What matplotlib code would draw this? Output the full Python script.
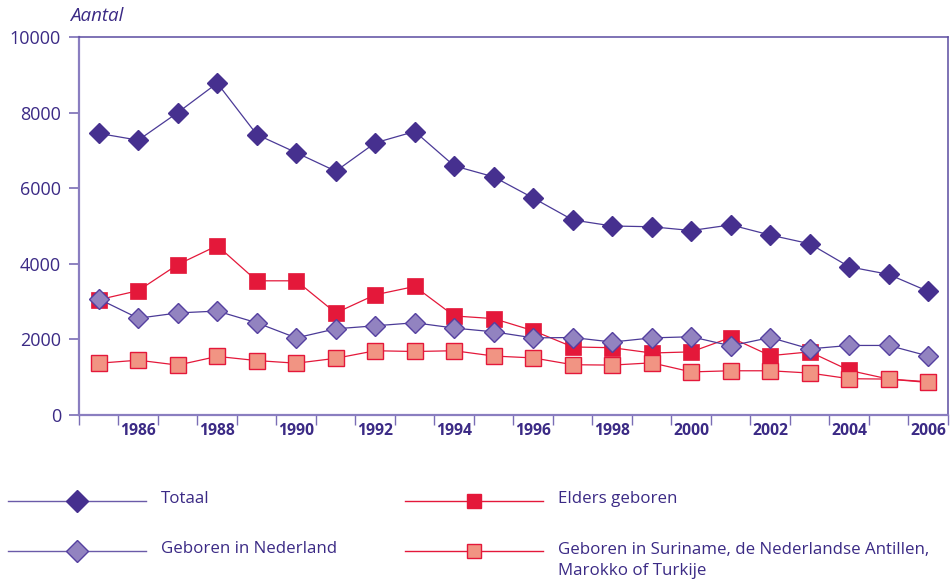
import matplotlib
matplotlib.use('Agg')
import matplotlib.pyplot as plt
import numpy as np

plt.rcParams['font.family'] = ['Open Sans', 'DejaVu Sans']

# data
years = list(range(1985, 2007))
totaal = [7450, 7270, 8000, 8780, 7420, 6940, 6450, 7200, 7500, 6590, 6300,
          5740, 5160, 5000, 4980, 4880, 5030, 4760, 4530, 3920, 3720, 3270]
elders = [3050, 3290, 3980, 4480, 3550, 3550, 2700, 3180, 3400, 2620, 2550,
          2230, 1800, 1780, 1640, 1670, 2050, 1570, 1670, 1180, 950, 880]
nederland = [3070, 2560, 2700, 2750, 2440, 2040, 2280, 2360, 2440, 2300, 2200,
             2040, 2050, 1930, 2040, 2070, 1830, 2050, 1750, 1840, 1840, 1560]
suriname = [1370, 1450, 1320, 1550, 1440, 1370, 1500, 1700, 1680, 1700, 1560,
            1510, 1330, 1320, 1380, 1140, 1170, 1170, 1110, 960, 950, 860]

labels = ['Totaal', 'Elders geboren', 'Geboren in Nederland',
          'Geboren in Suriname, de Nederlandse Antillen,\nMarokko of Turkije']

TXT = '#3b2a85'
DARK = '#46308f'
LIGHT = '#9283c0'
RED = '#e4183a'
SALMON = '#f19483'

fig = plt.figure(figsize=(9.53, 5.84), dpi=100)
ax = fig.add_axes([79/953, 1-415/584, (948-79)/953, (415-37)/584])

x = np.arange(len(years))
ax.plot(x, totaal, color='#4b3a97', lw=0.9, marker='D', ms=10.2,
        mfc=DARK, mec=DARK, zorder=3)
ax.plot(x, elders, color=RED, lw=0.9, marker='s', ms=11.5,
        mfc=RED, mec=RED, mew=0.5, zorder=4)
ax.plot(x, suriname, color=RED, lw=0.9, marker='s', ms=11,
        mfc=SALMON, mec=RED, mew=1.0, zorder=5)
ax.plot(x, nederland, color='#4b3a97', lw=0.9, marker='D', ms=10.4,
        mfc=LIGHT, mec='#5540a0', mew=1.0, zorder=6)

ax.set_xlim(-0.5, len(years) - 0.5)
ax.set_ylim(0, 10000)
ax.set_yticks(range(0, 10001, 2000))
ax.tick_params(axis='y', direction='out', length=7, width=1.2, color='#7a6db5',
               labelsize=13, labelcolor=TXT, pad=6)

even = [i for i, y in enumerate(years) if y % 2 == 0]
ax.set_xticks(even)
ax.set_xticklabels([str(years[i]) for i in even], fontweight='bold')
ax.set_xticks(np.arange(-0.5, len(years)), minor=True)
ax.tick_params(axis='x', which='major', length=0, labelsize=11.3,
               labelcolor=TXT, pad=6)
ax.tick_params(axis='x', which='minor', direction='out', length=7,
               width=1, color='#7a6db5')

for s in ['left', 'bottom']:
    ax.spines[s].set_color('#8a7ec0')
    ax.spines[s].set_linewidth(1.6)
for s in ['top', 'right']:
    ax.spines[s].set_color('#5b4ba0')
    ax.spines[s].set_linewidth(1.1)

fig.text(70/953, 1-16/584, 'Aantal', style='italic', color=TXT,
         fontsize=13.5, va='center', ha='left')

# legend, drawn by hand below the chart
lax = fig.add_axes([0, 0, 1, 1], zorder=-1)
lax.set_xlim(0, 953)
lax.set_ylim(584, 0)
lax.axis('off')

entries = [
    (labels[0], 8, 501, '#6a5aa8', 'D', 11, DARK, DARK),
    (labels[1], 405, 501, RED, 's', 10.5, RED, RED),
    (labels[2], 8, 551, '#6a5aa8', 'D', 11, LIGHT, '#5540a0'),
    (labels[3], 405, 551, RED, 's', 10.5, SALMON, RED),
]
for lab, x0, y0, lc, mk, ms, fc, ec in entries:
    lax.plot([x0, x0 + 138], [y0, y0], color=lc, lw=1.0)
    lax.plot([x0 + 69], [y0], marker=mk, ms=ms, mfc=fc, mec=ec, mew=1.0)
    if '\n' in lab:
        lax.text(x0 + 153, y0 - 9, lab, color=TXT, fontsize=12.2,
                 va='top', ha='left', linespacing=1.38)
    else:
        lax.text(x0 + 153, y0 - 2, lab, color=TXT, fontsize=12.2,
                 va='center', ha='left')

fig.savefig('out.png', dpi=100)
